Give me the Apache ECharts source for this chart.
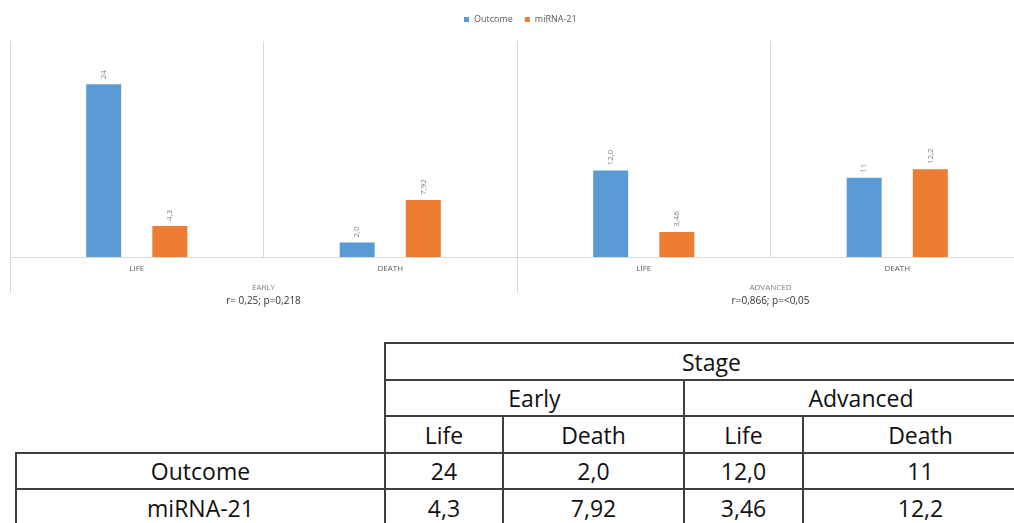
<!DOCTYPE html>
<html>
<head>
<meta charset="utf-8">
<script src="https://cdn.jsdelivr.net/npm/echarts@6/dist/echarts.min.js"></script>
<style>
  html, body { margin: 0; padding: 0; background: #fff; }
  body { width: 1014px; height: 523px; overflow: hidden; position: relative; }
  #chart { position: absolute; left: 0; top: 0; width: 1024px; height: 320px; }
  #tbl { position: absolute; left: 15px; top: 342px; border-collapse: collapse; table-layout: fixed; width: 1022px;
         font-family: 'Open Sans', sans-serif; font-size: 23px; color: #111; }
  #tbl td { border: 2px solid #3f3f3f; text-align: center; padding: 0; line-height: 30px; white-space: nowrap; overflow: hidden; }
  #tbl td.empty { border: none; }
</style>
</head>
<body>
<div id="chart"></div>
<table id="tbl"></table>
<script>
// ---- data ----
const categories = ['LIFE', 'DEATH', 'LIFE', 'DEATH'];
const groups = ['EARLY', 'ADVANCED'];
const groupStats = ['r= 0,25; p=0,218', 'r=0,866; p=<0,05'];
const seriesNames = ['Outcome', 'miRNA-21'];
const outcomeValues = [24, 2.0, 12.0, 11];
const outcomeLabels = ['24', '2,0', '12,0', '11'];
const mirnaValues = [4.3, 7.92, 3.46, 12.2];
const mirnaLabels = ['4,3', '7,92', '3,46', '12,2'];
const tableTitle = 'Stage';
const tableGroups = ['Early', 'Advanced'];
const tableSub = ['Life', 'Death', 'Life', 'Death'];

// ---- chart ----
const chart = echarts.init(document.getElementById('chart'));
const font = "'Open Sans', sans-serif";
const labelCfg = (texts) => ({
  show: true, position: 'top', rotate: 90, align: 'left', verticalAlign: 'middle', distance: 5,
  fontSize: 8, color: '#7f7f7f', fontFamily: font,
  formatter: p => texts[p.dataIndex]
});
chart.setOption({
  animation: false,
  textStyle: { fontFamily: font },
  legend: {
    data: seriesNames, left: 459, top: 10, icon: 'rect', itemWidth: 5, itemHeight: 5, itemGap: 12,
    textStyle: { fontSize: 9, color: '#595959', fontFamily: font }
  },
  grid: { left: 10, right: 0, top: 41, bottom: 63, containLabel: false },
  xAxis: [
    {
      type: 'category', data: categories, position: 'bottom',
      axisLine: { show: true, lineStyle: { color: '#d9d9d9', width: 1 } },
      axisTick: { show: false },
      splitLine: { show: true, interval: 0, lineStyle: { color: '#d9d9d9', width: 1 } },
      axisLabel: { interval: 0, margin: 8, fontSize: 8, color: '#595959', fontFamily: font }
    },
    {
      type: 'category', data: groups, position: 'bottom', offset: 0,
      axisLine: { show: false },
      axisTick: { show: true, interval: 0, length: 36, lineStyle: { color: '#d9d9d9', width: 1 } },
      splitLine: { show: false },
      axisLabel: {
        interval: 0, margin: 25,
        formatter: (v, i) => '{g|' + v + '}\n{s|' + groupStats[i] + '}',
        rich: {
          g: { fontSize: 8, color: '#7f7f7f', lineHeight: 12, fontFamily: font },
          s: { fontSize: 10, color: '#333333', lineHeight: 14, fontFamily: font }
        }
      }
    }
  ],
  yAxis: { type: 'value', min: 0, max: 30, show: false, splitLine: { show: false } },
  series: [
    { name: seriesNames[0], type: 'bar', xAxisIndex: 0, data: outcomeValues, barWidth: 35, barGap: '89%',
      itemStyle: { color: '#5B9BD5' }, label: labelCfg(outcomeLabels) },
    { name: seriesNames[1], type: 'bar', xAxisIndex: 0, data: mirnaValues, barWidth: 35, barGap: '89%',
      itemStyle: { color: '#ED7D31' }, label: labelCfg(mirnaLabels) }
  ]
});

// ---- table ----
const widths = [369, 118, 181, 119, 235];
const heights = [37, 36, 37, 36, 37];
let html = '<colgroup>' + widths.map(w => '<col style="width:' + w + 'px">').join('') + '</colgroup>';
html += '<tr style="height:' + heights[0] + 'px"><td class="empty" rowspan="3"></td><td colspan="4">' + tableTitle + '</td></tr>';
html += '<tr style="height:' + heights[1] + 'px"><td colspan="2">' + tableGroups[0] + '</td><td colspan="2">' + tableGroups[1] + '</td></tr>';
html += '<tr style="height:' + heights[2] + 'px">' + tableSub.map(s => '<td>' + s + '</td>').join('') + '</tr>';
html += '<tr style="height:' + heights[3] + 'px"><td>' + seriesNames[0] + '</td>' + outcomeLabels.map(s => '<td>' + s + '</td>').join('') + '</tr>';
html += '<tr style="height:' + heights[4] + 'px"><td>' + seriesNames[1] + '</td>' + mirnaLabels.map(s => '<td>' + s + '</td>').join('') + '</tr>';
document.getElementById('tbl').innerHTML = html;
</script>
</body>
</html>
